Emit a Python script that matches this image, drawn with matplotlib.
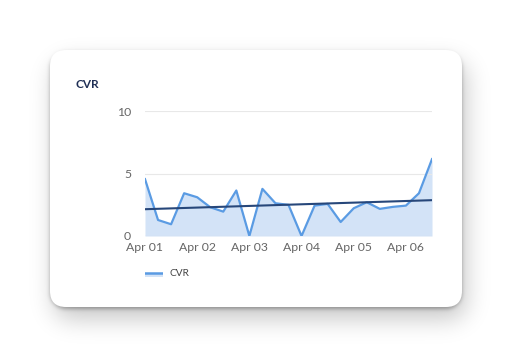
import matplotlib
matplotlib.use("Agg")
import matplotlib.pyplot as plt
import matplotlib.dates as mdates
import numpy as np
import pandas as pd
from matplotlib.patches import FancyBboxPatch
from matplotlib.transforms import IdentityTransform

plt.rcParams["font.family"] = ["Lato", "DejaVu Sans"]

# CVR sampled every 6 hours starting Apr 01
start = "2024-04-01"
cvr = [4.55, 1.28, 0.94, 3.42, 3.10, 2.30, 1.95, 3.64, 0.0, 3.77, 2.62, 2.49,
       0.0, 2.43, 2.57, 1.12, 2.22, 2.70, 2.17, 2.33, 2.43, 3.42, 6.15]
y_ticks = [0, 5, 10]
title = "CVR"
series_name = "CVR"

LINE = "#5a9be3"
FILL = "#d3e3f7"
TREND = "#27477a"

times = pd.date_range(start, periods=len(cvr), freq="6h")
idx = np.arange(len(cvr))
slope, icpt = np.polyfit(idx, cvr, 1)
trend = slope * idx + icpt

W, H = 512, 358
fig = plt.figure(figsize=(W / 100, H / 100), dpi=100)
fig.patch.set_facecolor("white")

# card geometry in pixels (top-left origin)
cx0, cy0, cx1, cy1, rad = 50, 50, 462, 307, 16


def rounded_mask(dx, dy):
    yy, xx = np.mgrid[0:H, 0:W] + 0.5
    x0, x1 = cx0 + rad + dx, cx1 - rad + dx
    y0, y1 = cy0 + rad + dy, cy1 - rad + dy
    ddx = np.maximum(np.maximum(x0 - xx, xx - x1), 0)
    ddy = np.maximum(np.maximum(y0 - yy, yy - y1), 0)
    return (np.hypot(ddx, ddy) <= rad).astype(float)


def blur(a, sigma):
    k = np.arange(-3 * int(sigma) - 1, 3 * int(sigma) + 2)
    k = np.exp(-0.5 * (k / sigma) ** 2)
    k /= k.sum()
    a = np.apply_along_axis(lambda r: np.convolve(r, k, mode="same"), 1, a)
    return np.apply_along_axis(lambda c: np.convolve(c, k, mode="same"), 0, a)


shadow = 0.22 * blur(rounded_mask(4, 12), 12) + 0.25 * blur(rounded_mask(0, 2), 2)
img = np.zeros((H, W, 4))
img[..., 3] = np.clip(shadow, 0, 1)
fig.figimage(img, xo=0, yo=0, origin="upper", zorder=0)

card = FancyBboxPatch((cx0, H - cy1), cx1 - cx0, cy1 - cy0,
                      boxstyle=f"round,pad=0,rounding_size={rad}",
                      transform=IdentityTransform(), facecolor="white",
                      edgecolor="none", zorder=1)
fig.patches.append(card)

fig.text(75 / W, 1 - 85 / H, title, fontsize=8.5, fontweight="bold",
         color="#1f2f55", va="center", ha="left", zorder=3)

ax = fig.add_axes([145 / W, 1 - 236 / H, (432 - 145) / W, (236 - 111) / H])
ax.set_facecolor("none")
ax.set_zorder(2)

ax.fill_between(times, cvr, 0, color=FILL, linewidth=0, zorder=1)
ax.plot(times, cvr, color=LINE, linewidth=1.6, zorder=3, label=series_name)
ax.plot(times, trend, color=TREND, linewidth=1.5, zorder=4)

ax.set_xlim(times[0], times[-1])
ax.set_ylim(0, 10)
ax.set_yticks(y_ticks)
ax.grid(axis="y", color="#e8e8e8", linewidth=0.8, zorder=0)
ax.axhline(0, color="#c9d6e6", linewidth=0.8, zorder=2)
for s in ax.spines.values():
    s.set_visible(False)
ax.tick_params(length=0, labelsize=8.8, colors="#666666")
ax.tick_params(axis="x", pad=4)
ax.tick_params(axis="y", pad=10)
ax.xaxis.set_major_locator(mdates.DayLocator())
ax.xaxis.set_major_formatter(mdates.DateFormatter("%b %d"))

# legend: line over fill swatch
lx0, lx1, ly = 145, 163, 274
lax = fig.add_axes([lx0 / W, 1 - (ly + 3) / H, (lx1 - lx0) / W, 6 / H])
lax.set_zorder(3)
lax.set_xlim(0, 1)
lax.set_ylim(0, 1)
lax.axis("off")
lax.fill_between([0, 1], [0.6, 0.6], 0, color=FILL, linewidth=0)
lax.plot([0, 1], [0.65, 0.65], color=LINE, linewidth=1.8)
fig.text(169 / W, 1 - ly / H, series_name, fontsize=7.3, color="#444444",
         va="center", ha="left", zorder=3)

fig.savefig("out.png", dpi=100)
